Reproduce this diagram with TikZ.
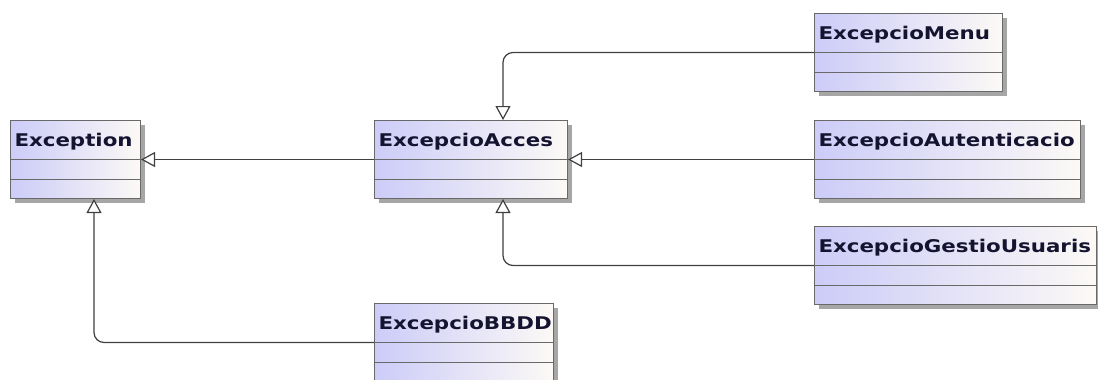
\documentclass[tikz,border=0pt]{standalone}
\usepackage{fontspec}
\newfontfamily\clsfont[FakeStretch=1.22]{DejaVu Sans}
\usepackage{tikz}
\usetikzlibrary{arrows.meta, calc, shadows}
\definecolor{lav}{RGB}{204,204,248}
\definecolor{paper}{RGB}{252,249,246}
\definecolor{edge}{RGB}{105,105,105}
\definecolor{navy}{RGB}{20,20,48}

\begin{document}
\begin{tikzpicture}[
  x=1pt, y=-1pt,
  cls/.style={draw=edge, line width=1pt, anchor=north west, left color=lav, right color=paper,
              drop shadow={shadow xshift=4pt, shadow yshift=-4pt, fill=black!35, opacity=1},
              inner xsep=4pt, inner ysep=0pt, text height=26pt, text depth=52pt,
              align=left, text=navy, font=\clsfont\bfseries\fontsize{17.5}{20}\selectfont},
  inh/.style={-{Triangle[fill=white, width=15pt, length=14pt]}, line width=1.2pt, black!75, rounded corners=10pt}
]
\useasboundingbox[fill=white] (0,0) rectangle (1098,380);

% classes
\node[cls, text width=122pt] (exc) at (10,120) {Exception};
\node[cls, text width=185pt] (acces) at (374,120) {ExcepcioAcces};
\node[cls, text width=180pt] (menu) at (814,13) {ExcepcioMenu};
\node[cls, text width=258pt] (aut) at (814,120) {ExcepcioAutenticacio};
\node[cls, text width=274pt] (gest) at (814,226) {ExcepcioGestioUsuaris};
\node[cls, text width=171pt] (bbdd) at (374,303) {ExcepcioBBDD};

% compartment lines
\foreach \c in {exc, acces, menu, aut, gest, bbdd} {
  \draw[edge, line width=1pt] ($(\c.north west)+(0,39)$) -- ($(\c.north east)+(0,39)$);
  \draw[edge, line width=1pt] ($(\c.north west)+(0,59)$) -- ($(\c.north east)+(0,59)$);
}

% generalisations
\draw[inh] (acces.west) -- (exc.east);
\draw[inh] (aut.west) -- (acces.east);
\draw[inh] (menu.west) -| ($(acces.north west)+(129,0)$);
\draw[inh] (gest.west) -| ($(acces.south west)+(129,0)$);
\draw[inh] (bbdd.west) -| ($(exc.south west)+(84,0)$);
\end{tikzpicture}
\end{document}
